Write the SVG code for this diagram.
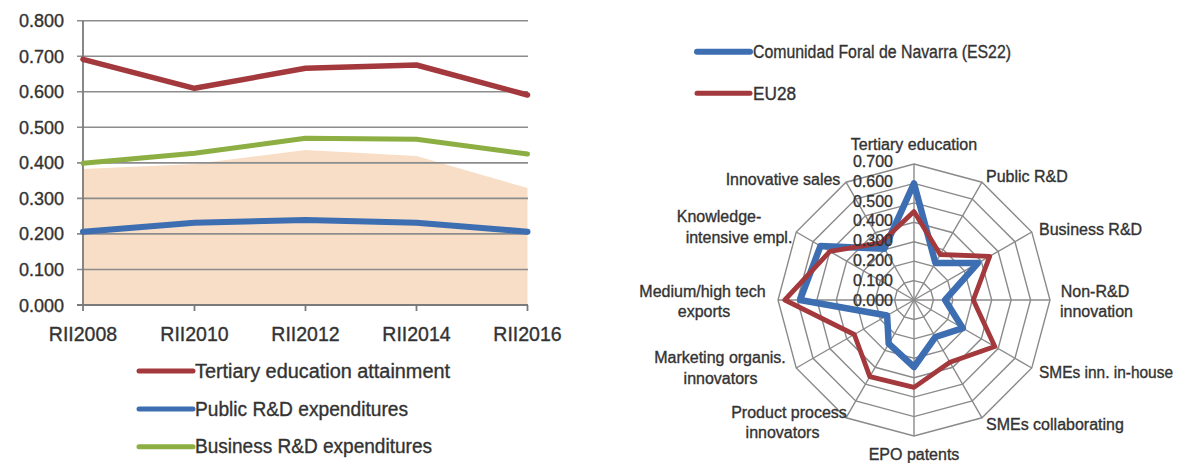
<svg xmlns="http://www.w3.org/2000/svg" width="1179" height="463" viewBox="0 0 1179 463">
<style>
  text { font-family: "Liberation Sans", Arial, sans-serif; fill: #333333; stroke: #333333; stroke-width: 0.35px; }
  .ylab { font-size: 18px; text-anchor: end; }
  .xlab { font-size: 19.5px; text-anchor: middle; }
  .leg { font-size: 19.5px; }
  .rleg { font-size: 18px; }
  .cat { font-size: 16px; }
  .mid { text-anchor: middle; }
  .rval { font-size: 16px; text-anchor: end; }
  .grid { stroke: #8c8c8c; stroke-width: 1.6; fill: none; }
  .axis { stroke: #7a7a7a; stroke-width: 1.8; fill: none; }
  .ring { stroke: #8a8a8a; stroke-width: 1.4; fill: none; }
  .ser { fill: none; stroke-linejoin: round; stroke-linecap: round; }
  .red { stroke: #a3393c; }
  .blue { stroke: #3d6eb2; }
  .green { stroke: #8cae42; }
</style>

<!-- Left line chart -->
<g id="line-chart">
  <polygon id="area" points="83,305 83,169 194.5,164 305.5,150 416.5,156 527.5,188 527.5,305" fill="#f8dec6"/>
  <g id="gridlines">
    <line class="grid" x1="77" y1="20.7" x2="528" y2="20.7"/>
    <line class="grid" x1="77" y1="56.2" x2="528" y2="56.2"/>
    <line class="grid" x1="77" y1="91.8" x2="528" y2="91.8"/>
    <line class="grid" x1="77" y1="127.3" x2="528" y2="127.3"/>
    <line class="grid" x1="77" y1="162.9" x2="528" y2="162.9"/>
    <line class="grid" x1="77" y1="198.4" x2="528" y2="198.4"/>
    <line class="grid" x1="77" y1="233.9" x2="528" y2="233.9"/>
    <line class="grid" x1="77" y1="269.5" x2="528" y2="269.5"/>
    <line class="axis" x1="77" y1="305" x2="528" y2="305"/>
    <line class="axis" x1="83" y1="20.7" x2="83" y2="305"/>
    <line class="axis" x1="83" y1="305" x2="83" y2="311"/>
    <line class="axis" x1="194.5" y1="305" x2="194.5" y2="311"/>
    <line class="axis" x1="305.5" y1="305" x2="305.5" y2="311"/>
    <line class="axis" x1="416.5" y1="305" x2="416.5" y2="311"/>
    <line class="axis" x1="527.5" y1="305" x2="527.5" y2="311"/>
  </g>
  <g id="y-labels">
    <text class="ylab" x="64" y="27.2">0.800</text>
    <text class="ylab" x="64" y="62.7">0.700</text>
    <text class="ylab" x="64" y="98.3">0.600</text>
    <text class="ylab" x="64" y="133.8">0.500</text>
    <text class="ylab" x="64" y="169.4">0.400</text>
    <text class="ylab" x="64" y="204.9">0.300</text>
    <text class="ylab" x="64" y="240.4">0.200</text>
    <text class="ylab" x="64" y="276">0.100</text>
    <text class="ylab" x="64" y="311.5">0.000</text>
  </g>
  <g id="x-labels">
    <text class="xlab" x="83" y="341">RII2008</text>
    <text class="xlab" x="194.5" y="341">RII2010</text>
    <text class="xlab" x="305.5" y="341">RII2012</text>
    <text class="xlab" x="416.5" y="341">RII2014</text>
    <text class="xlab" x="527.5" y="341">RII2016</text>
  </g>
  <g id="series-lines">
    <polyline class="ser green" stroke-width="5" points="83,163.3 194.5,153.3 305.5,138.3 416.5,139.3 527.5,154"/>
    <polyline class="ser blue" stroke-width="6" points="83,231.7 194.5,222.7 305.5,220 416.5,222.7 527.5,231.7"/>
    <polyline class="ser red" stroke-width="5.5" points="83,59.3 194.5,88.3 305.5,68.3 416.5,65 527.5,95"/>
  </g>
  <g id="legend-left">
    <line class="ser red" stroke-width="5" x1="139" y1="371" x2="193" y2="371"/>
    <text class="leg" x="195" y="377.5" textLength="255" lengthAdjust="spacingAndGlyphs">Tertiary education attainment</text>
    <line class="ser blue" stroke-width="5" x1="139" y1="409" x2="193" y2="409"/>
    <text class="leg" x="195" y="415.5" textLength="213" lengthAdjust="spacingAndGlyphs">Public R&amp;D expenditures</text>
    <line class="ser green" stroke-width="5" x1="139" y1="446.7" x2="193" y2="446.7"/>
    <text class="leg" x="195" y="453" textLength="237" lengthAdjust="spacingAndGlyphs">Business R&amp;D expenditures</text>
  </g>
</g>

<!-- Right legend -->
<g id="legend-right">
  <line class="ser blue" stroke-width="6" x1="697" y1="51.7" x2="750" y2="51.7"/>
  <text class="rleg" x="753" y="57.8" textLength="258" lengthAdjust="spacingAndGlyphs">Comunidad Foral de Navarra (ES22)</text>
  <line class="ser red" stroke-width="5" x1="697" y1="93.3" x2="750" y2="93.3"/>
  <text class="rleg" x="753" y="100" textLength="43" lengthAdjust="spacingAndGlyphs">EU28</text>
</g>

<!-- Radar chart -->
<g id="radar">
  <g id="radar-grid">
    <polygon class="ring" points="914,280.57 923.71,283.17 930.83,290.29 933.43,300 930.83,309.71 923.71,316.83 914,319.43 904.29,316.83 897.17,309.71 894.57,300 897.17,290.29 904.29,283.17"/>
    <polygon class="ring" points="914,261.14 933.43,266.35 947.65,280.57 952.86,300 947.65,319.43 933.43,333.65 914,338.86 894.57,333.65 880.35,319.43 875.14,300 880.35,280.57 894.57,266.35"/>
    <polygon class="ring" points="914,241.71 943.14,249.52 964.48,270.86 972.29,300 964.48,329.14 943.14,350.48 914,358.29 884.86,350.48 863.52,329.14 855.71,300 863.52,270.86 884.86,249.52"/>
    <polygon class="ring" points="914,222.29 952.86,232.7 981.3,261.14 991.71,300 981.3,338.86 952.86,367.3 914,377.71 875.14,367.3 846.7,338.86 836.29,300 846.7,261.14 875.14,232.7"/>
    <polygon class="ring" points="914,202.86 962.57,215.87 998.13,251.43 1011.14,300 998.13,348.57 962.57,384.13 914,397.14 865.43,384.13 829.87,348.57 816.86,300 829.87,251.43 865.43,215.87"/>
    <polygon class="ring" points="914,183.43 972.29,199.05 1014.95,241.71 1030.57,300 1014.95,358.29 972.29,400.95 914,416.57 855.71,400.95 813.05,358.29 797.43,300 813.05,241.71 855.71,199.05"/>
    <polygon class="ring" points="914,164 982,182.22 1031.78,232 1050,300 1031.78,368 982,417.78 914,436 846,417.78 796.22,368 778,300 796.22,232 846,182.22"/>
    <g class="ring">
      <line x1="914" y1="300" x2="914" y2="164"/>
      <line x1="914" y1="300" x2="982" y2="182.22"/>
      <line x1="914" y1="300" x2="1031.78" y2="232"/>
      <line x1="914" y1="300" x2="1050" y2="300"/>
      <line x1="914" y1="300" x2="1031.78" y2="368"/>
      <line x1="914" y1="300" x2="982" y2="417.78"/>
      <line x1="914" y1="300" x2="914" y2="436"/>
      <line x1="914" y1="300" x2="846" y2="417.78"/>
      <line x1="914" y1="300" x2="796.22" y2="368"/>
      <line x1="914" y1="300" x2="778" y2="300"/>
      <line x1="914" y1="300" x2="796.22" y2="232"/>
      <line x1="914" y1="300" x2="846" y2="182.22"/>
    </g>
  </g>
  <g id="radar-series">
    <polygon class="ser blue" stroke-width="6.5" points="914,183.4 935.4,263 977.9,263.1 945.1,300 962.8,328.2 935.4,337 914,367 888.7,343.7 887.1,315.5 800,300 820.5,246 884.4,248.7"/>
    <polygon class="ser red" stroke-width="4.8" points="914,211.6 940.2,254.5 989.7,256.3 973.3,300 994.8,346.6 949.9,362.2 914,387.4 869.8,376.6 854.3,334.5 784.8,300 829.9,251.4 881,242.8"/>
  </g>
  <g id="radar-values">
    <text class="rval" x="893" y="305.5">0.000</text>
    <text class="rval" x="893" y="285.7">0.100</text>
    <text class="rval" x="893" y="265.9">0.200</text>
    <text class="rval" x="893" y="246.1">0.300</text>
    <text class="rval" x="893" y="226.3">0.400</text>
    <text class="rval" x="893" y="206.5">0.500</text>
    <text class="rval" x="893" y="186.7">0.600</text>
    <text class="rval" x="893" y="166.9">0.700</text>
  </g>
  <g id="radar-labels">
    <text class="cat mid" x="914" y="150">Tertiary education</text>
    <text class="cat" x="986" y="181.5">Public R&amp;D</text>
    <text class="cat" x="1039" y="235">Business R&amp;D</text>
    <text class="cat mid" x="1095" y="296.5">Non-R&amp;D</text>
    <text class="cat mid" x="1096.5" y="316.5">innovation</text>
    <text class="cat" x="1039" y="378" textLength="134" lengthAdjust="spacingAndGlyphs">SMEs inn. in-house</text>
    <text class="cat" x="986" y="430">SMEs collaborating</text>
    <text class="cat mid" x="914" y="460">EPO patents</text>
    <text class="cat mid" x="789" y="418.3">Product process</text>
    <text class="cat mid" x="782.5" y="438.3">innovators</text>
    <text class="cat mid" x="720" y="363.3">Marketing organis.</text>
    <text class="cat mid" x="720.5" y="384">innovators</text>
    <text class="cat mid" x="702.5" y="296.7">Medium/high tech</text>
    <text class="cat mid" x="704" y="316.7">exports</text>
    <text class="cat mid" x="719" y="221.5">Knowledge-</text>
    <text class="cat mid" x="739" y="243">intensive empl.</text>
    <text class="cat mid" x="783" y="185">Innovative sales</text>
  </g>
</g>
</svg>
